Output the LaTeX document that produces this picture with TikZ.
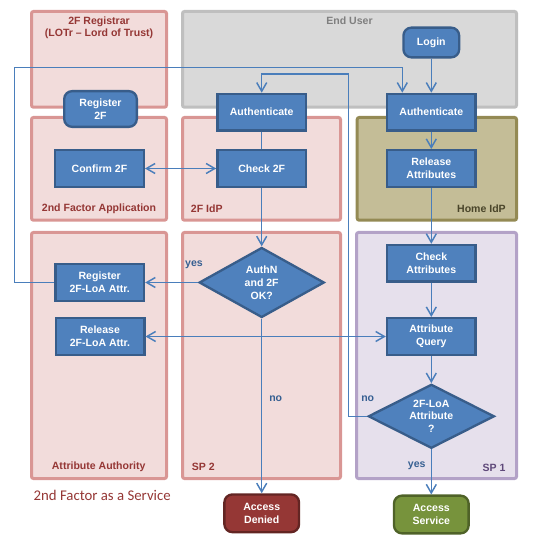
\documentclass[tikz,border=0pt]{standalone}
\usepackage{fontspec}
\setmainfont{Liberation Sans}
\newfontfamily\calibrifont{Carlito}
\usetikzlibrary{shapes.geometric,arrows.meta}
\definecolor{pinkfill}{HTML}{F2DCDB}
\definecolor{pinkline}{HTML}{D99694}
\definecolor{grayfill}{HTML}{D9D9D9}
\definecolor{grayline}{HTML}{BFBFBF}
\definecolor{homefill}{HTML}{C4BD97}
\definecolor{homeline}{HTML}{948A54}
\definecolor{spfill}{HTML}{E6E0EC}
\definecolor{spline}{HTML}{B3A2C7}
\definecolor{redtext}{HTML}{953735}
\definecolor{graytext}{HTML}{7F7F7F}
\definecolor{hometext}{HTML}{4A452A}
\definecolor{purpletext}{HTML}{5F497A}
\definecolor{linecol}{HTML}{4A7EBB}
\definecolor{ynblue}{HTML}{376092}
\definecolor{boxfill}{HTML}{4F81BD}
\definecolor{boxline}{HTML}{385D8A}
\definecolor{deniedfill}{HTML}{953735}
\definecolor{deniedline}{HTML}{632523}
\definecolor{servfill}{HTML}{77933C}
\definecolor{servline}{HTML}{4F6228}
\tikzset{
  panel/.style={line width=2.25pt, rounded corners=1.5pt},
  pinkpanel/.style={panel, draw=pinkline, fill=pinkfill},
  bluebox/.style={draw=boxline, fill=boxfill, line width=1.75pt, text=white,
    font=\bfseries\fontsize{7.9}{9.6}\selectfont, align=center, inner sep=0pt,
    minimum width=66.5pt, minimum height=27.5pt},
  rbox/.style={bluebox, rounded corners=6pt},
  dia/.style={bluebox, diamond, aspect=1.8},
  conn/.style={draw=linecol, line width=1.1pt},
  arr/.style={conn, -{Straight Barb[length=6.5pt,width=7.5pt]}},
  darr/.style={conn, {Straight Barb[length=6.5pt,width=7.5pt]}-{Straight Barb[length=6.5pt,width=7.5pt]}},
  plab/.style={font=\bfseries\fontsize{7.9}{9.5}\selectfont, inner sep=0pt, align=center},
  yn/.style={font=\bfseries\fontsize{7.9}{9.6}\selectfont, text=ynblue, inner sep=0pt},
}
\begin{document}
\begin{tikzpicture}[x=0.75pt,y=-0.75pt]
\useasboundingbox (0,0) rectangle (535,548);
% panels
\draw[pinkpanel] (31.5,11.5) rectangle (166.5,107.2);
\draw[panel, draw=grayline, fill=grayfill] (182.5,11.5) rectangle (516.5,107.2);
\draw[pinkpanel] (31.5,117.5) rectangle (166.5,220.2);
\draw[pinkpanel] (182.5,117.5) rectangle (340.5,220.2);
\draw[panel, draw=homeline, fill=homefill] (357.2,117.5) rectangle (516.5,220.2);
\draw[pinkpanel] (31.5,232.5) rectangle (166.5,478.5);
\draw[pinkpanel] (182.5,232.5) rectangle (340.5,478.5);
\draw[panel, draw=spline, fill=spfill] (356.5,232.5) rectangle (516.5,478.5);
% panel labels
\node[plab, text=redtext] (lreg) at (99,27.7) {2F Registrar\\(LOTr – Lord of Trust)};
\node[plab, text=graytext] (leu) at (349.5,21) {End User};
\node[plab, text=redtext] (lapp) at (99,209) {2nd Factor Application};
\node[plab, text=redtext, anchor=west] (lidp) at (190.7,209) {2F IdP};
\node[plab, text=hometext, anchor=east] (lhome) at (506,209) {Home IdP};
\node[plab, text=redtext] (laa) at (98.7,467) {Attribute Authority};
\node[plab, text=redtext, anchor=west] (lsp2) at (191.7,467.3) {SP 2};
\node[plab, text=purpletext, anchor=east] (lsp1) at (505.7,467.7) {SP 1};
\node[font=\calibrifont\fontsize{11.1}{13}\selectfont, text=redtext, inner sep=0pt] (title) at (102.2,495.7) {2nd Factor as a Service};
% nodes
\node[rbox, minimum width=54.5pt, minimum height=26.8pt] (reg2f) at (100.5,109) {Register\\2F};
\node[bluebox] (confirm) at (99.5,168.5) {Confirm 2F};
\node[bluebox] (authL) at (261.7,112.2) {Authenticate};
\node[bluebox] (check2f) at (261.7,168.5) {Check 2F};
\node[rbox, minimum width=41.8pt, minimum height=22.3pt] (login) at (431.3,42.5) {Login};
\node[bluebox] (authR) at (431.3,112.2) {Authenticate};
\node[bluebox] (relattr) at (431.3,168.5) {Release\\Attributes};
\node[bluebox] (checkattr) at (431.3,263.3) {Check\\Attributes};
\node[bluebox] (query) at (431.3,336.5) {Attribute\\Query};
\node[bluebox] (regloa) at (99.7,282.5) {Register\\2F-LoA Attr.};
\node[bluebox] (relloa) at (100,336.5) {Release\\2F-LoA Attr.};
\node[dia, minimum width=93.8pt, minimum height=52.5pt] (dauth) at (261.7,282.5) {AuthN\\and 2F\\OK?};
\node[dia, minimum width=94.5pt, minimum height=48pt] (dloa) at (431.3,416.3) {2F-LoA\\Attribute\\?};
\node[rbox, fill=deniedfill, draw=deniedline, minimum width=56pt, minimum height=28.3pt] (denied) at (261.7,513.3) {Access\\Denied};
\node[rbox, fill=servfill, draw=servline, minimum width=56pt, minimum height=28.3pt] (service) at (431.3,514.5) {Access\\Service};
% connectors
\coordinate (c1) at (14.7,67.7);
\coordinate (c2) at (402.3,67.7);
\coordinate (c3) at (348.3,74);
\draw[arr] (regloa.west) -| (c1) -| (authR.north -| c2);
\draw[arr] (dloa.west) -| (c3) -| (authL.north);
\draw[arr] (login) -- (authR);
\draw[conn] (authL) -- (check2f);
\draw[darr] (confirm) -- (check2f);
\draw[arr] (authR) -- (relattr);
\draw[arr] (relattr) -- (checkattr);
\draw[arr] (check2f) -- (dauth);
\draw[arr] (dauth.west) -- (regloa.east);
\draw[arr] (dauth) -- (denied);
\draw[arr] (checkattr) -- (query);
\draw[darr] (relloa.east) -- (query.west);
\draw[arr] (query) -- (dloa);
\draw[arr] (dloa) -- (service);
% labels
\node[yn] (yes1) at (194,265) {yes};
\node[yn] (no1) at (275.7,398.3) {no};
\node[yn] (no2) at (367.7,398.3) {no};
\node[yn] (yes2) at (416.7,465.7) {yes};
\end{tikzpicture}
\end{document}
